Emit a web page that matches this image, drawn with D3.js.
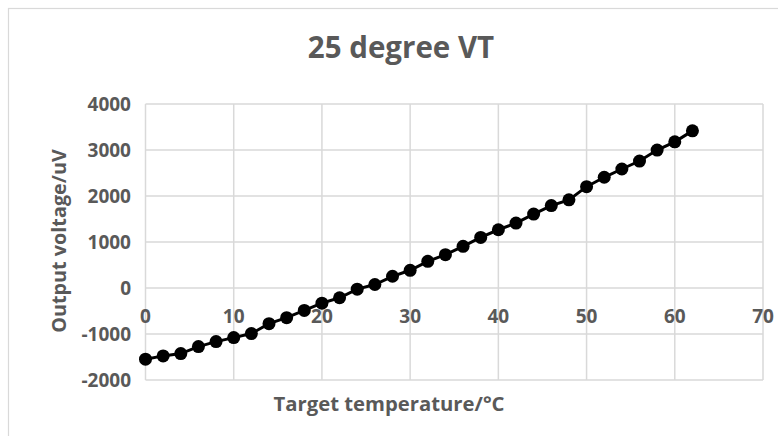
<!DOCTYPE html>
<html><head><meta charset="utf-8">
<script src="https://cdn.jsdelivr.net/npm/d3@7"></script>
<style>html,body{margin:0;padding:0;background:#fff;} text{font-family:"Open Sans",sans-serif;font-weight:bold;fill:#595959;}</style>
</head><body>
<script>
const title = "25 degree VT";
const xTitle = "Target temperature/°C";
const yTitle = "Output voltage/uV";
const temperature = [0,2,4,6,8,10,12,14,16,18,20,22,24,26,28,30,32,34,36,38,40,42,44,46,48,50,52,54,56,58,60,62];
const voltage = [-1548,-1476,-1425,-1273,-1165,-1078,-991,-775,-645,-487,-329,-212,-25,76,255,385,580,725,905,1100,1266,1411,1606,1792,1916,2203,2407,2587,2760,2998,3177,3416];
const xTicks = [0,10,20,30,40,50,60,70];
const yTicks = [-2000,-1000,0,1000,2000,3000,4000];

const W = 778, H = 436;
const svg = d3.select("body").append("svg").attr("width", W).attr("height", H);
svg.append("rect").attr("x",0).attr("y",0).attr("width",W).attr("height",H).attr("fill","#fff");
svg.append("rect").attr("x",8.5).attr("y",8.5).attr("width",W+10).attr("height",H+10)
  .attr("fill","none").attr("stroke","#d9d9d9").attr("stroke-width",1.2);

const x = d3.scaleLinear().domain([0,70]).range([145.5,763]);
const y = d3.scaleLinear().domain([-2000,4000]).range([380,104]);

const g = svg.append("g");
g.selectAll(".vg").data(xTicks).enter().append("line")
  .attr("x1",d=>x(d)).attr("x2",d=>x(d)).attr("y1",y(4000)).attr("y2",y(-2000))
  .attr("stroke","#d9d9d9").attr("stroke-width",1.5);
g.selectAll(".hg").data(yTicks).enter().append("line")
  .attr("x1",x(0)).attr("x2",x(70)).attr("y1",d=>y(d)).attr("y2",d=>y(d))
  .attr("stroke","#d9d9d9").attr("stroke-width",1.5);

// y tick labels
g.selectAll(".yl").data(yTicks).enter().append("text")
  .attr("x",131).attr("y",d=>y(d)).attr("dy","0.35em").attr("text-anchor","end")
  .attr("font-size",19).text(d=>d);
// x tick labels (at y=0 axis)
g.selectAll(".xl").data(xTicks).enter().append("text")
  .attr("x",d=>x(d)).attr("y",y(0)+35).attr("text-anchor","middle")
  .attr("font-size",19).text(d=>d);

const line = d3.line().x((d,i)=>x(temperature[i])).y(d=>y(d));
g.append("path").datum(voltage).attr("d",line).attr("fill","none").attr("stroke","#000").attr("stroke-width",3);
g.selectAll(".pt").data(voltage).enter().append("circle")
  .attr("cx",(d,i)=>x(temperature[i])).attr("cy",d=>y(d)).attr("r",6.5).attr("fill","#000");

svg.append("text").attr("x",401).attr("y",58).attr("text-anchor","middle").attr("font-size",29.5).text(title);
svg.append("text").attr("x",389).attr("y",411).attr("text-anchor","middle").attr("font-size",20.3).text(xTitle);
svg.append("text").attr("transform","translate(65.5,241) rotate(-90)").attr("text-anchor","middle").attr("font-size",19.8).text(yTitle);
</script>
</body></html>
